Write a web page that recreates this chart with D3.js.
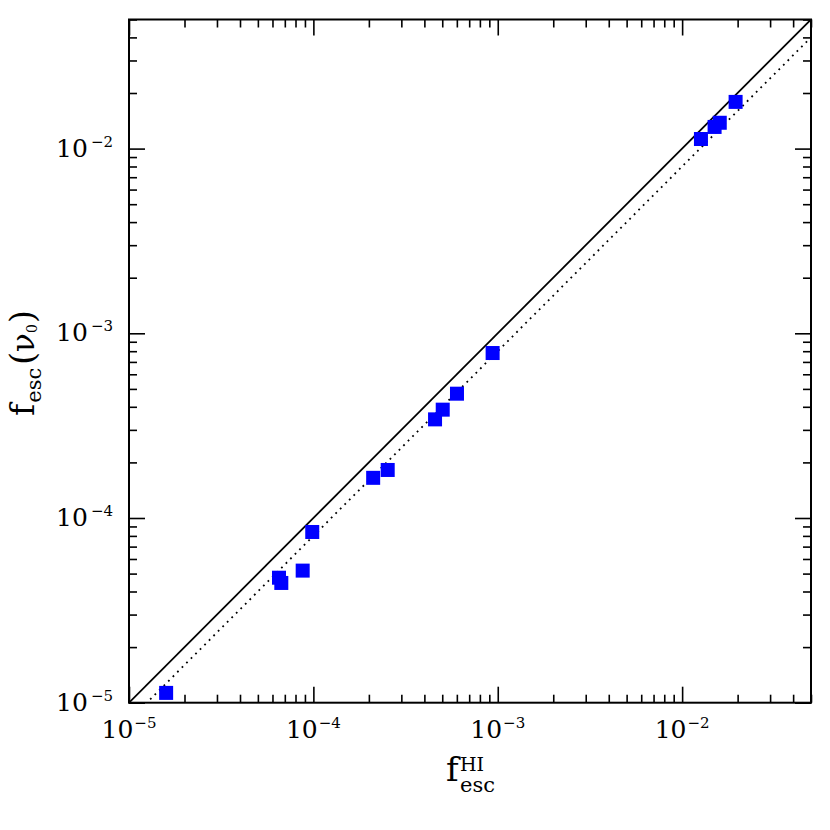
<!DOCTYPE html>
<html>
<head>
<meta charset="utf-8">
<script src="https://cdn.jsdelivr.net/npm/d3@7"></script>
<style>
  html, body { margin: 0; padding: 0; background: #fff; }
  svg { display: block; }
  text { font-family: "DejaVu Serif", serif; fill: #000; }
</style>
</head>
<body>
<svg id="chart" width="830" height="830"></svg>
<script>
// ---- data ----
const fescHI = [1.59e-5, 6.51e-5, 6.70e-5, 8.75e-5, 9.86e-5, 2.11e-4, 2.53e-4, 4.57e-4, 5.03e-4, 6.01e-4, 9.38e-4, 1.265e-2, 1.50e-2, 1.60e-2, 1.95e-2];
const fescNu0 = [1.13e-5, 4.75e-5, 4.45e-5, 5.19e-5, 8.40e-5, 1.65e-4, 1.82e-4, 3.42e-4, 3.86e-4, 4.71e-4, 7.82e-4, 1.127e-2, 1.31e-2, 1.38e-2, 1.79e-2];
const refRatios = [1.0, 0.8];           // solid y = x, dotted y = 0.8 x
const axisDomain = [1e-5, 0.05];
const majorTicks = [1e-5, 1e-4, 1e-3, 1e-2];
const majorExponents = ["−5", "−4", "−3", "−2"];
const minorMultipliers = [2, 3, 4, 5, 6, 7, 8, 9];

// ---- layout ----
const W = 830, H = 830;
const margin = { left: 129, right: 19, top: 19.5, bottom: 127.3 };
const x0 = margin.left, x1 = W - margin.right;
const y0 = H - margin.bottom, y1 = margin.top;

const svg = d3.select("#chart");
const x = d3.scaleLog().domain(axisDomain).range([x0, x1]);
const y = d3.scaleLog().domain(axisDomain).range([y0, y1]);

const minorTicks = [];
majorTicks.forEach(m => minorMultipliers.forEach(k => {
  const v = m * k;
  if (v <= axisDomain[1] * 1.0001) minorTicks.push(v);
}));

// clip
svg.append("defs").append("clipPath").attr("id", "plotclip")
  .append("rect").attr("x", x0).attr("y", y1).attr("width", x1 - x0).attr("height", y0 - y1);

// ticks on all four sides (inward)
const majLen = 16, minLen = 8;
function drawAxis(gen, transform, ticks, len) {
  const g = svg.append("g").attr("transform", transform)
    .call(gen.tickValues(ticks).tickFormat("").tickSizeInner(-len).tickSizeOuter(0));
  g.select(".domain").remove();
  g.selectAll(".tick line").attr("stroke", "#000").attr("stroke-width", 1.6);
}
drawAxis(d3.axisBottom(x), `translate(0,${y0})`, majorTicks, majLen);
drawAxis(d3.axisBottom(x), `translate(0,${y0})`, minorTicks, minLen);
drawAxis(d3.axisTop(x), `translate(0,${y1})`, majorTicks, majLen);
drawAxis(d3.axisTop(x), `translate(0,${y1})`, minorTicks, minLen);
drawAxis(d3.axisLeft(y), `translate(${x0},0)`, majorTicks, majLen);
drawAxis(d3.axisLeft(y), `translate(${x0},0)`, minorTicks, minLen);
drawAxis(d3.axisRight(y), `translate(${x1},0)`, majorTicks, majLen);
drawAxis(d3.axisRight(y), `translate(${x1},0)`, minorTicks, minLen);

// reference lines
const plot = svg.append("g").attr("clip-path", "url(#plotclip)");
const line = d3.line().x(d => x(d[0])).y(d => y(d[1]));
refRatios.forEach((r, i) => {
  const pts = [[axisDomain[0] / r * 0.5, axisDomain[0] * 0.5], [axisDomain[1] * 2, axisDomain[1] * 2 * r]];
  plot.append("path")
    .attr("d", line(pts))
    .attr("fill", "none")
    .attr("stroke", "#000")
    .attr("stroke-width", 1.8)
    .attr("stroke-dasharray", i === 0 ? null : "1.8,4.6");
});

// points
const sq = 14;
plot.selectAll("rect.pt").data(fescHI.map((v, i) => [v, fescNu0[i]]))
  .enter().append("rect").attr("class", "pt")
  .attr("x", d => x(d[0]) - sq / 2)
  .attr("y", d => y(d[1]) - sq / 2)
  .attr("width", sq).attr("height", sq)
  .attr("fill", "#0000ff");

// frame
svg.append("rect").attr("x", x0).attr("y", y1).attr("width", x1 - x0).attr("height", y0 - y1)
  .attr("fill", "none").attr("stroke", "#000").attr("stroke-width", 2);

// tick labels
majorTicks.forEach((v, i) => {
  const t = svg.append("text").attr("x", x(v)).attr("y", y0 + 35).attr("text-anchor", "middle").attr("font-size", 25);
  t.append("tspan").text("10");
  t.append("tspan").attr("font-size", 15).attr("dy", -10).attr("dx", 1).text(majorExponents[i]);

  const ty = svg.append("text").attr("x", x0 - 16).attr("y", y(v) + 8).attr("text-anchor", "end").attr("font-size", 25);
  ty.append("tspan").text("10");
  ty.append("tspan").attr("font-size", 15).attr("dy", -10).attr("dx", 3).text(majorExponents[i]);
});

// x axis title: f^HI_esc
const cx = (x0 + x1) / 2;
svg.append("text").attr("x", cx - 24).attr("y", 781).attr("font-size", 34).text("f");
svg.append("text").attr("x", cx - 10).attr("y", 771).attr("font-size", 19).text("HI");
svg.append("text").attr("x", cx - 10).attr("y", 792).attr("font-size", 21).text("esc");

// y axis title: f_esc(ν_0)
const cy = (y0 + y1) / 2;
const yt = svg.append("text").attr("transform", `translate(34,${cy + 2}) rotate(-90)`)
  .attr("text-anchor", "middle").attr("font-size", 33);
yt.append("tspan").text("f");
yt.append("tspan").attr("font-size", 21).attr("dy", 7).attr("dx", 1).text("esc");
yt.append("tspan").attr("font-size", 33).attr("dy", -7).attr("dx", 3).text("(");
yt.append("tspan").attr("font-size", 31).text("ν");
yt.append("tspan").attr("font-size", 14).attr("dy", 3).text("0");
yt.append("tspan").attr("font-size", 33).attr("dy", -3).attr("dx", 1).text(")");
</script>
</body>
</html>
